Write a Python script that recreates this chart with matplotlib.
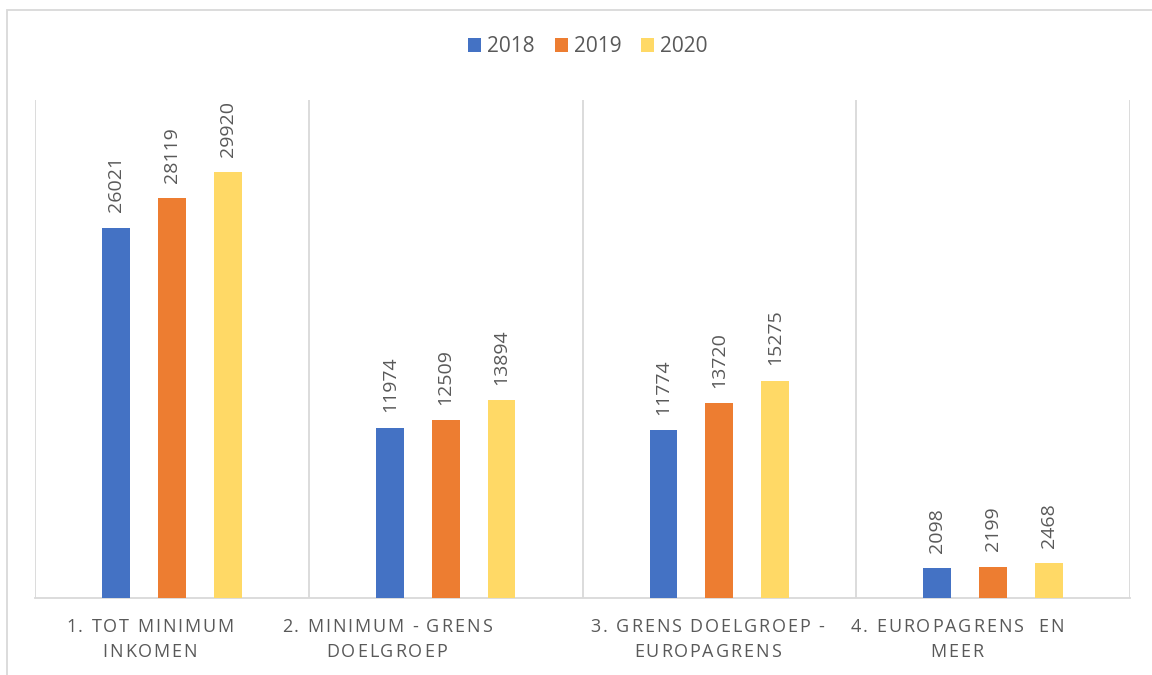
import matplotlib
matplotlib.use("Agg")
import matplotlib.pyplot as plt
from matplotlib.patches import Rectangle, Patch
from matplotlib.font_manager import FontProperties

categories = [
    ["1. TOT MINIMUM", "INKOMEN"],
    ["2. MINIMUM - GRENS", "DOELGROEP"],
    ["3. GRENS DOELGROEP -", "EUROPAGRENS"],
    ["4. EUROPAGRENS  EN", "MEER"],
]
years = ["2018", "2019", "2020"]
values_2018 = [26021, 11974, 11774, 2098]
values_2019 = [28119, 12509, 13720, 2199]
values_2020 = [29920, 13894, 15275, 2468]
series = [values_2018, values_2019, values_2020]
colors = ["#4472C4", "#ED7D31", "#FFD966"]
text_color = "#595959"
grid_color = "#D9D9D9"
FONT = "Open Sans"
# horizontal shift (pixels) of each wrapped category label, as in the reference
label_shift = [-22, -59, -12, -36]

W, H = 1152, 675
fig = plt.figure(figsize=(W / 100, H / 100), dpi=100)
ax = fig.add_axes([35 / W, 1 - 598 / H, (1130 - 35) / W, (598 - 100) / H])

bar_w = 0.102
offsets = [-0.204, 0.0, 0.204]
for vals, off, col in zip(series, offsets, colors):
    xs = [i + off for i in range(len(vals))]
    ax.bar(xs, vals, width=bar_w, color=col, zorder=3)
    for x, v in zip(xs, vals):
        ax.annotate(str(v), (x, v), xytext=(0, 11), textcoords="offset points",
                    rotation=90, ha="center", va="bottom", fontsize=14,
                    color=text_color, family=FONT)

ax.set_xlim(-0.5, len(categories) - 0.5)
ax.set_ylim(0, 35000)
for b in [i - 0.5 for i in range(len(categories) + 1)]:
    ax.axvline(b, color=grid_color, lw=1.3, zorder=1)
for s in ["top", "left", "right"]:
    ax.spines[s].set_visible(False)
ax.spines["bottom"].set_color(grid_color)
ax.spines["bottom"].set_linewidth(1.3)
ax.set_xticks([])
ax.set_yticks([])

# letter-spaced category labels
fig.canvas.draw()
renderer = fig.canvas.get_renderer()
prop = FontProperties(family=FONT, size=13)
spacing = 1.9
line_ys = [627, 652]
for i, lines in enumerate(categories):
    cx = ax.transData.transform((i, 0))[0] + label_shift[i]
    for line, ly in zip(lines, line_ys):
        widths = [renderer.get_text_width_height_descent(c, prop, ismath=False)[0]
                  for c in line]
        total = sum(widths) + spacing * (len(line) - 1)
        x = cx - total / 2
        for c, w in zip(line, widths):
            if c != " ":
                fig.text(x / W, 1 - ly / H, c, fontproperties=prop,
                         color=text_color, ha="left", va="center")
            x += w + spacing

handles = [Patch(facecolor=c, edgecolor="none") for c in colors]
fig.legend(handles, years, loc="center", bbox_to_anchor=(588 / W, 1 - 47 / H),
           ncol=3, frameon=False, prop=FontProperties(family=FONT, size=15),
           labelcolor=text_color, handlelength=0.62, handleheight=0.62,
           handletextpad=0.3, columnspacing=0.95)

fig.patches.append(Rectangle((7 / W, -0.1), 2, (H - 10) / H + 0.1,
                             transform=fig.transFigure, fill=False,
                             ec=grid_color, lw=1.3))

fig.savefig("out.png", dpi=100)
